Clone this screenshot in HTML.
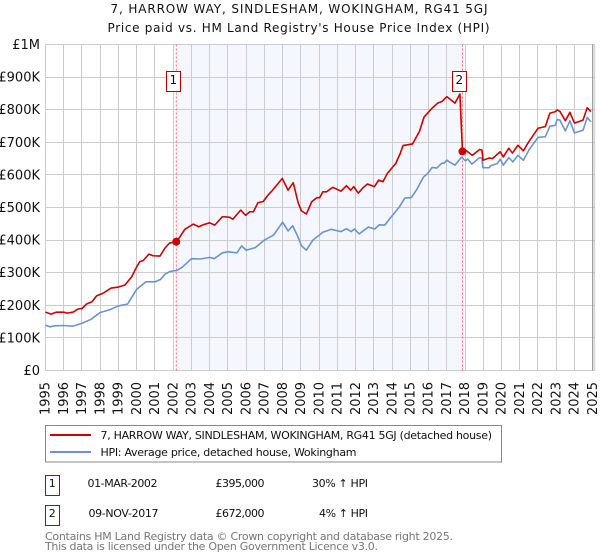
<!DOCTYPE html>
<html lang="en">
<head>
<meta charset="utf-8">
<title>7, Harrow Way price chart</title>
<style>
html,body{margin:0;padding:0;background:#fff;width:600px;height:560px;overflow:hidden}
svg{display:block}
text{font-family:"DejaVu Sans","Liberation Sans",sans-serif;fill:#111}
</style>
</head>
<body>
<svg id="chart" width="600" height="560" viewBox="0 0 600 560" xmlns="http://www.w3.org/2000/svg">
  <text x="299" y="13" text-anchor="middle" font-size="12" textLength="377">7, HARROW WAY, SINDLESHAM, WOKINGHAM, RG41 5GJ</text>
  <text x="298.5" y="32" text-anchor="middle" font-size="12" textLength="382">Price paid vs. HM Land Registry's House Price Index (HPI)</text>
  <g id="plot"></g>

  <g>
    <rect x="45.5" y="425.5" width="456" height="36.5" fill="#fff" stroke="#888" stroke-width="1"/>
    <line x1="50" x2="91" y1="435" y2="435" stroke="#cc0000" stroke-width="2"/>
    <text x="100.5" y="439" font-size="11" textLength="391.5">7, HARROW WAY, SINDLESHAM, WOKINGHAM, RG41 5GJ (detached house)</text>
    <line x1="50" x2="91" y1="452" y2="452" stroke="#6a93d0" stroke-width="2"/>
    <text x="100.5" y="456" font-size="11" textLength="256">HPI: Average price, detached house, Wokingham</text>
  </g>

  <g>
    <rect x="45.5" y="475.5" width="14" height="20" fill="#fff" stroke="#bb0000" stroke-width="1"/>
    <text x="52.3" y="487" text-anchor="middle" font-size="11">1</text>
    <text x="87.5" y="487" font-size="11" textLength="70">01-MAR-2002</text>
    <text x="215.5" y="487" font-size="11" textLength="49">£395,000</text>
    <text x="312" y="487" font-size="11" textLength="56">30% ↑ HPI</text>
  </g>
  <g>
    <rect x="45.5" y="505.5" width="14" height="20" fill="#fff" stroke="#bb0000" stroke-width="1"/>
    <text x="52.3" y="517" text-anchor="middle" font-size="11">2</text>
    <text x="88.5" y="517" font-size="11" textLength="70">09-NOV-2017</text>
    <text x="215.5" y="517" font-size="11" textLength="49">£672,000</text>
    <text x="319" y="517" font-size="11" textLength="49">4% ↑ HPI</text>
  </g>

  <text x="45" y="540" font-size="11" textLength="408" style="fill:#777">Contains HM Land Registry data © Crown copyright and database right 2025.</text>
  <text x="45" y="550" font-size="11" textLength="333" style="fill:#777">This data is licensed under the Open Government Licence v3.0.</text>
</svg>

<script>
const yearTicks = [1995,1996,1997,1998,1999,2000,2001,2002,2003,2004,2005,2006,2007,2008,2009,2010,2011,2012,2013,2014,2015,2016,2017,2018,2019,2020,2021,2022,2023,2024,2025];
const valueTicks = [0,100000,200000,300000,400000,500000,600000,700000,800000,900000,1000000];
const valueTickLabels = ['£0','£100K','£200K','£300K','£400K','£500K','£600K','£700K','£800K','£900K','£1M'];

const hpiDates = [1995,1995.25,1995.5,1996,1996.5,1997,1997.5,1998,1998.5,1999,1999.5,2000,2000.5,2001,2001.3,2001.55,2001.8,2002,2002.17,2002.5,2003,2003.5,2004,2004.25,2004.7,2005,2005.5,2005.75,2006,2006.5,2007,2007.5,2008,2008.3,2008.55,2008.84,2009.03,2009.3,2009.66,2010.03,2010.2,2010.66,2011.2,2011.5,2011.76,2011.94,2012.2,2012.7,2013.05,2013.3,2013.6,2013.85,2014.4,2014.7,2015.05,2015.33,2015.73,2015.95,2016.2,2016.45,2016.73,2016.85,2017,2017.17,2017.45,2017.8,2018.03,2018.15,2018.37,2018.8,2018.93,2018.98,2019.33,2019.4,2019.78,2019.93,2020.1,2020.4,2020.62,2020.9,2021.2,2021.5,2022,2022.4,2022.65,2022.95,2023.05,2023.2,2023.5,2023.75,2024,2024.47,2024.7,2024.9];
const hpiValues = [139000,134000,137000,138000,136000,145000,157000,178000,186000,198000,204000,249000,272000,272000,279000,295000,303000,306000,306000,317000,343000,342000,347000,343000,361000,364000,361000,382000,369000,377000,400000,415000,455000,428000,444000,410000,383000,369000,400000,416000,424000,433000,426000,435000,426000,434000,419000,440000,434000,447000,446000,464000,502000,529000,530000,553000,594000,604000,623000,621000,636000,636000,645000,639000,630000,654000,643000,649000,633000,653000,651000,622000,622000,628000,635000,648000,630000,653000,640000,660000,645000,676000,715000,717000,749000,752000,770000,768000,735000,766000,729000,737000,776000,763000];

const priceDates = [1995,1995.3,1995.6,1996,1996.17,1996.5,1996.8,1997,1997.25,1997.55,1997.8,1998.15,1998.6,1999,1999.35,1999.72,2000,2000.17,2000.35,2000.67,2000.9,2001.28,2001.54,2001.8,2002.17,2002.37,2002.64,2003.1,2003.4,2003.65,2004,2004.28,2004.7,2005.1,2005.27,2005.7,2005.97,2006.2,2006.4,2006.65,2006.93,2007.2,2007.4,2007.98,2008.3,2008.58,2008.86,2009.03,2009.3,2009.6,2009.87,2010.03,2010.2,2010.4,2010.75,2011.2,2011.5,2011.73,2011.9,2012.15,2012.4,2012.65,2013.03,2013.27,2013.5,2013.75,2014.2,2014.45,2014.6,2015.12,2015.5,2015.75,2016.2,2016.5,2016.73,2017,2017.45,2017.72,2017.86,2018.03,2018.4,2018.8,2018.93,2018.98,2019.33,2019.5,2019.93,2020.1,2020.4,2020.6,2020.9,2021.2,2021.5,2022,2022.4,2022.65,2022.95,2023.05,2023.2,2023.5,2023.75,2024,2024.47,2024.7,2024.9];
const priceValues = [179000,173000,179000,179000,176000,179000,189000,190000,204000,211000,229000,237000,253000,256000,262000,287000,318000,334000,337000,357000,352000,351000,375000,391000,395000,410000,433000,449000,441000,447000,453000,446000,472000,470000,464000,492000,476000,487000,487000,515000,518000,538000,550000,589000,553000,576000,513000,490000,480000,518000,530000,530000,548000,548000,562000,550000,567000,553000,564000,544000,560000,572000,564000,584000,579000,605000,635000,666000,690000,695000,733000,777000,805000,820000,825000,840000,820000,848000,672000,676000,660000,678000,676000,645000,652000,650000,671000,655000,682000,667000,691000,674000,702000,743000,748000,789000,794000,799000,795000,766000,792000,759000,768000,806000,794000];

const saleDates = [2002.17,2017.86];
const saleValues = [395000,672000];
const saleLabels = ['1','2'];

const NS = 'http://www.w3.org/2000/svg';
const plot = document.getElementById('plot');
const X0 = 45.5, X1 = 592.7, Y0 = 370.5, Y1 = 44.5, XR = 594.5;

function xScale(year){ return X0 + (year - 1995) * (X1 - X0) / 30; }
function yScale(value){ return Y0 - value * (Y0 - Y1) / 1000000; }
function snap(p){ return Math.floor(p) + 0.5; }

function make(tag, attrs, text){
  const el = document.createElementNS(NS, tag);
  for (const k in attrs) el.setAttribute(k, attrs[k]);
  if (text !== undefined) el.textContent = text;
  plot.appendChild(el);
  return el;
}

const shade = make('rect', {x:xScale(saleDates[0]), y:Y1, width:xScale(saleDates[1])-xScale(saleDates[0]), height:Y0-Y1, fill:'#f4f7fe'});



valueTicks.forEach(function(v, i){
  const y = snap(yScale(v));
  const g = make('line', {x1:X0, x2:XR, y1:y, y2:y, stroke:'#cccccc', 'stroke-width':1});
  
  
  const t = make('text', {x:40, y:yScale(v)+4.5, 'text-anchor':'end', 'font-size':13}, valueTickLabels[i]);
  
  
});

yearTicks.forEach(function(yr){
  const x = snap(xScale(yr));
  const g = make('line', {x1:x, x2:x, y1:Y1, y2:Y0, stroke:'#cccccc', 'stroke-width':1});
  
  
  const xt = xScale(yr) + 4.2;
  const t = make('text', {x:xt, y:415, 'font-size':13, transform:'rotate(-90 '+xt+' 415)'}, String(yr));
  
  
});

const rightLine = make('line', {x1:X1, x2:X1, y1:Y1, y2:Y0, stroke:'#999999', 'stroke-width':1.2});


const rightEdge = make('line', {x1:XR+0.2, x2:XR+0.2, y1:Y1, y2:Y0, stroke:'#cccccc', 'stroke-width':1});



saleDates.forEach(function(d){
  const x = xScale(d);
  const l = make('line', {x1:x, x2:x, y1:Y1, y2:Y0, stroke:'#ff6666', 'stroke-width':1, 'stroke-dasharray':'2 2'});
  
  
});

function pathFrom(dates, values){
  return dates.map(function(d, i){ return (i ? 'L' : 'M') + xScale(d).toFixed(2) + ' ' + yScale(values[i]).toFixed(2); }).join('');
}

const hpiLine = make('path', {d:pathFrom(hpiDates, hpiValues), fill:'none', stroke:'#6a93d0', 'stroke-width':1.6, 'stroke-linejoin':'round'});


const priceLine = make('path', {d:pathFrom(priceDates, priceValues), fill:'none', stroke:'#cc0000', 'stroke-width':1.6, 'stroke-linejoin':'round'});



saleDates.forEach(function(d, i){
  const c = make('circle', {cx:xScale(d), cy:yScale(saleValues[i]), r:4, fill:'#cc0000'});
  
  
  const bx = xScale(d) - 10;
  const b = make('rect', {x:Math.floor(bx)+0.5, y:71.5, width:14, height:20, fill:'#fff', stroke:'#bb0000', 'stroke-width':1});
  
  
  const t = make('text', {x:Math.floor(bx)+7.3, y:84, 'text-anchor':'middle', 'font-size':12}, saleLabels[i]);
  
  
});
</script>
</body>
</html>
